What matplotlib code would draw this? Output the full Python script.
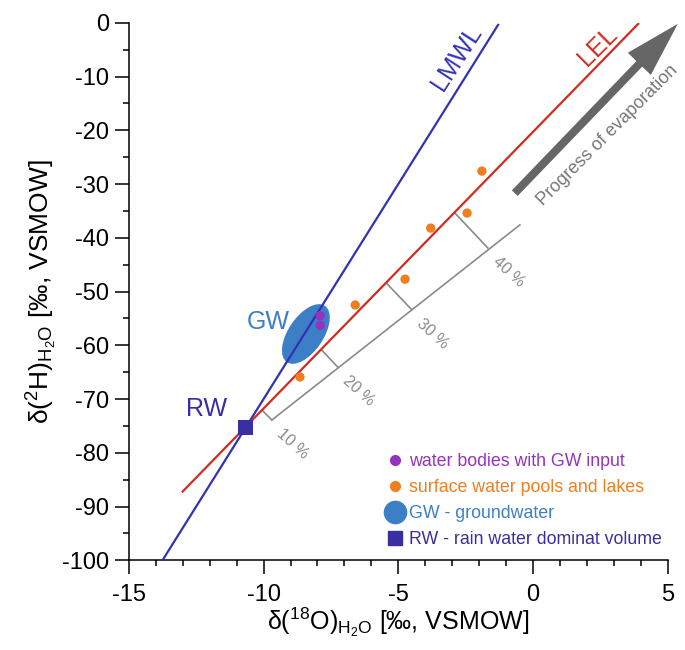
import numpy as np
import matplotlib.pyplot as plt
from matplotlib.patches import Ellipse
from matplotlib.lines import Line2D
from matplotlib.transforms import ScaledTranslation
from matplotlib.ticker import MultipleLocator

plt.rcParams['font.family'] = ['Liberation Sans', 'DejaVu Sans']
plt.rcParams['mathtext.fontset'] = 'custom'
plt.rcParams['mathtext.rm'] = 'Liberation Sans'
plt.rcParams['mathtext.it'] = 'Liberation Sans:italic'
plt.rcParams['axes.unicode_minus'] = False

# Local meteoric water line and local evaporation line (end points)
lmwl_x = [-13.75, -1.3]
lmwl_y = [-100.0, -0.4]
lel_x = [-13.0, 3.9]
lel_y = [-87.2, -0.2]

# Rain water end member and groundwater field
rw_x, rw_y = -10.68, -75.3
gw_x, gw_y = -8.43, -57.9

# Sample groups
gw_input_x = [-7.9, -7.9]
gw_input_y = [-54.5, -56.3]
pools_x = [-8.65, -6.6, -4.75, -3.8, -2.45, -1.9]
pools_y = [-65.9, -52.5, -47.7, -38.2, -35.4, -27.6]

# Evaporated fraction scale: point on LEL -> point on scale line
frac_labels = ['10 %', '20 %', '30 %', '40 %']
frac_lel_x = [-10.03, -7.84, -5.43, -2.90]
frac_lel_y = [-72.2, -60.9, -48.5, -35.4]
frac_scale_x = [-9.69, -7.24, -4.50, -1.68]
frac_scale_y = [-73.9, -64.1, -53.4, -41.9]
scale_end_x, scale_end_y = -0.49, -37.6

c_lmwl = '#3232b4'
c_lel = '#d42a20'
c_pool = '#f07d1e'
c_gwin = '#9433bf'
c_gw = '#3d7fc6'
c_rw = '#3a2fa0'
c_gray = '#8a8a8a'

fig = plt.figure(figsize=(6.85, 6.5), dpi=100)
ax = fig.add_axes([0.188, 0.138, 0.787, 0.827])

ax.plot(lmwl_x, lmwl_y, color=c_lmwl, lw=1.6, zorder=3)
ax.plot(lel_x, lel_y, color=c_lel, lw=1.6, zorder=3)

# groundwater ellipse, size given in inches around the data centre
ell = Ellipse((0, 0), 0.68, 0.35, angle=56, facecolor=c_gw, edgecolor='none',
              transform=fig.dpi_scale_trans + ScaledTranslation(gw_x, gw_y, ax.transData),
              zorder=2)
ax.add_patch(ell)

# evaporation fraction scale
ax.plot([frac_scale_x[0], scale_end_x], [frac_scale_y[0], scale_end_y],
        color=c_gray, lw=1.2, zorder=2)
for lx, ly, sx, sy, lab in zip(frac_lel_x, frac_lel_y, frac_scale_x, frac_scale_y, frac_labels):
    ax.plot([lx, sx], [ly, sy], color=c_gray, lw=1.2, zorder=2)
    ax.annotate(lab, (sx, sy), xytext=(15, -17), textcoords='offset points',
                rotation=-42, ha='center', va='center', fontsize=11.5, color=c_gray,
                rotation_mode='anchor')

ax.scatter(pools_x, pools_y, s=45, color=c_pool, edgecolors='none', zorder=4)
ax.scatter(gw_input_x, gw_input_y, s=45, color=c_gwin, edgecolors='none', zorder=4)
ax.scatter([rw_x], [rw_y], s=110, marker='s', color=c_rw, edgecolors='none', zorder=5)

ax.text(-2.83, -6.5, 'LMWL', color=c_lmwl, fontsize=18, rotation=57,
        ha='center', va='center', rotation_mode='anchor')
ax.text(2.40, -4.3, 'LEL', color=c_lel, fontsize=18, rotation=45,
        ha='center', va='center', rotation_mode='anchor')
ax.text(-9.84, -55.7, 'GW', color=c_gw, fontsize=18, ha='center', va='center')
ax.text(-12.1, -71.9, 'RW', color=c_rw, fontsize=18, ha='center', va='center')

ax.annotate('', xy=(5.37, -0.2), xytext=(-0.68, -31.7), annotation_clip=False,
            arrowprops=dict(arrowstyle='simple,head_length=4.0,head_width=2.3,tail_width=0.58',
                            mutation_scale=10, color='#666666', lw=0, shrinkA=0, shrinkB=0))
ax.text(2.75, -21.0, 'Progress of evaporation', color='#777777', fontsize=13,
        rotation=45, ha='center', va='center', rotation_mode='anchor')

handles = [
    Line2D([], [], ls='', marker='o', ms=7, color=c_gwin),
    Line2D([], [], ls='', marker='o', ms=7, color=c_pool),
    Line2D([], [], ls='', marker='o', ms=16, color=c_gw),
    Line2D([], [], ls='', marker='s', ms=10, color=c_rw),
]
labels = ['water bodies with GW input', 'surface water pools and lakes',
          'GW - groundwater', 'RW - rain water dominat volume']
ax.legend(handles, labels, loc='lower left', bbox_to_anchor=(0.455, 0.0),
          frameon=False, fontsize=12.8, handlelength=1.0, handletextpad=0.25,
          labelspacing=0.5, borderpad=0.2,
          labelcolor=[c_gwin, c_pool, c_gw, c_rw])

ax.set_xlim(-15, 5)
ax.set_ylim(-100, 0)
ax.xaxis.set_major_locator(MultipleLocator(5))
ax.xaxis.set_minor_locator(MultipleLocator(1))
ax.yaxis.set_major_locator(MultipleLocator(10))
ax.yaxis.set_minor_locator(MultipleLocator(5))
for side in ('top', 'right'):
    ax.spines[side].set_visible(False)
for side in ('left', 'bottom'):
    ax.spines[side].set_linewidth(1.1)
ax.tick_params(which='major', direction='out', length=10, width=1.1, labelsize=17)
ax.tick_params(axis='x', which='major', pad=7)
ax.tick_params(axis='y', which='major', pad=4)
ax.tick_params(which='minor', direction='out', length=4, width=1.1)

ax.set_xlabel(r'δ($^{18}$O)$_{\mathrm{H_2O}}$ [‰, VSMOW]', fontsize=18, labelpad=0)
ax.set_ylabel(r'δ($^{2}$H)$_{\mathrm{H_2O}}$ [‰, VSMOW]', fontsize=19, labelpad=2)

fig.savefig('out.png', dpi=100)
